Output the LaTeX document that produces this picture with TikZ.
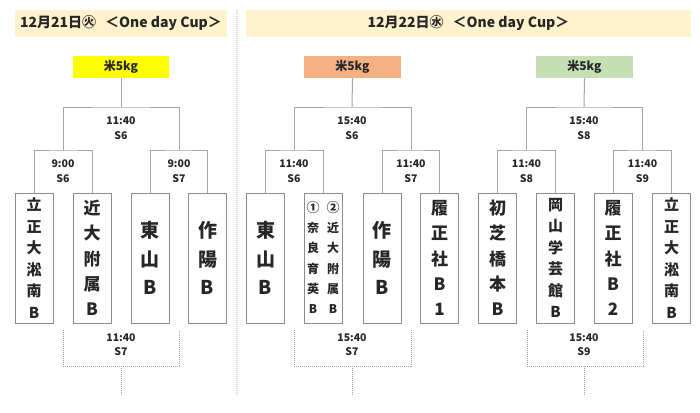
\documentclass[tikz,border=0pt]{standalone}
\usepackage{fontspec}
\setmainfont{Noto Sans CJK JP}
\definecolor{hdr}{HTML}{FFF2CC}
\definecolor{pyel}{HTML}{FFFF00}
\definecolor{psal}{HTML}{F4B183}
\definecolor{pgrn}{HTML}{C5E0B4}
\definecolor{lnc}{HTML}{A6A6A6}
\definecolor{bxc}{HTML}{8C8C8C}
\definecolor{txt}{HTML}{262626}
\tikzset{
  ln/.style={draw=lnc, line width=1pt},
  dl/.style={draw=lnc, line width=0.9pt, dash pattern=on 1.2pt off 0.8pt},
  sep/.style={draw=gray!30, line width=1.5pt, dash pattern=on 1pt off 1pt},
  hdrbox/.style={fill=hdr, draw=none, minimum height=27pt, inner sep=0, text=txt, font=\bfseries\fontsize{14}{16}\selectfont},
  prize/.style={draw=none, minimum width=96pt, minimum height=22pt, inner sep=0, text=txt, font=\bfseries\fontsize{12}{14}\selectfont},
  team/.style={draw=bxc, line width=0.8pt, minimum width=38pt, minimum height=130pt, inner sep=0, align=center, text=txt},
  fa/.style={font=\bfseries\fontsize{15}{21.5}\selectfont},
  fb/.style={font=\bfseries\fontsize{17}{25.3}\selectfont},
  fc/.style={font=\bfseries\fontsize{19}{28.5}\selectfont},
  fd/.style={font=\bfseries\fontsize{12}{20.2}\selectfont, align=center, inner sep=0, text=txt},
  tm/.style={align=center, inner sep=0, text=txt, font=\bfseries\fontsize{10.5}{14.5}\selectfont},
}
\begin{document}
\begin{tikzpicture}[x=1pt,y=-1pt]
\useasboundingbox (0,0) rectangle (700,412);
\fill[white] (0,0) rectangle (700,412);

% headers
\node[hdrbox, minimum width=212pt] (h1) at (121,23.5) {12月21日㊋\hspace{9pt}＜One day Cup＞};
\node[hdrbox, minimum width=445pt] (h2) at (468.5,23.5) {12月22日㊌\hspace{9pt}＜One day Cup＞};
\coordinate (s1) at (237,10);
\coordinate (s2) at (237,395);
\draw[sep] (s1) -- (s2);

% ---------------- Day 1 ----------------
\node[prize, fill=pyel] (p1) at (121,67) {米5kg};
\node[team, fa] (a1) at (34,258) {立\\正\\大\\淞\\南\\B};
\node[team, fb] (a2) at (92,258) {近\\大\\附\\属\\B};
\node[team, fc] (a3) at (150,258) {東\\山\\B};
\node[team, fc] (a4) at (207.5,258) {作\\陽\\B};
\coordinate (d1t) at (121,107);
\coordinate (d1l) at (63,150);
\coordinate (d1r) at (179,150);
\draw[ln] (p1.south) -- (d1t);
\draw[ln] (d1l) |- (d1t) -| (d1r);
\draw[ln] (a1.north) |- (d1l) -| (a2.north);
\draw[ln] (a3.north) |- (d1r) -| (a4.north);
\node[tm] (t1a) at (121,128) {11:40\\S6};
\node[tm] (t1b) at (63,171) {9:00\\S6};
\node[tm] (t1c) at (179,171) {9:00\\S7};
\coordinate (e1l) at (63,330);
\coordinate (e1r) at (179,330);
\coordinate (e1m) at (121,366);
\coordinate (e1e) at (121,395);
\draw[dl] (e1l) |- (e1m) -| (e1r);
\draw[dl] (e1m) -- (e1e);
\node[tm] (t1d) at (121,344.5) {11:40\\S7};

% ---------------- Day 2 left ----------------
\node[prize, fill=psal, minimum width=97pt] (p2) at (352.5,67) {米5kg};
\node[team, fc] (b1) at (265.5,258) {東\\山\\B};
\node[team] (b2) at (323,258) {};
\node[fd] (b2a) at (313,257.5) {{\fontsize{13}{20.2}\selectfont ①}\\奈\\良\\育\\英\\B};
\node[fd] (b2b) at (333,257.5) {{\fontsize{13}{20.2}\selectfont ②}\\近\\大\\附\\属\\B};
\node[team, fc] (b3) at (382,258) {作\\陽\\B};
\node[team, fb] (b4) at (439.5,258) {履\\正\\社\\B\\1};
\coordinate (d2t) at (352,107);
\coordinate (d2l) at (294,150);
\coordinate (d2r) at (411,150);
\draw[ln] (p2.south) -- (d2t);
\draw[ln] (d2l) |- (d2t) -| (d2r);
\draw[ln] (b1.north) |- (d2l) -| (b2.north);
\draw[ln] (b3.north) |- (d2r) -| (b4.north);
\node[tm] (t2a) at (352,128) {15:40\\S6};
\node[tm] (t2b) at (294,171) {11:40\\S6};
\node[tm] (t2c) at (411,171) {11:40\\S7};
\coordinate (e2l) at (294,330);
\coordinate (e2r) at (411,330);
\coordinate (e2m) at (352,366);
\coordinate (e2e) at (352,395);
\draw[dl] (e2l) |- (e2m) -| (e2r);
\draw[dl] (e2m) -- (e2e);
\node[tm] (t2d) at (352,344.5) {15:40\\S7};

% ---------------- Day 2 right ----------------
\node[prize, fill=pgrn, minimum width=97pt] (p3) at (584.5,67) {米5kg};
\node[team, fb] (c1) at (497.5,258) {初\\芝\\橋\\本\\B};
\node[team, fa] (c2) at (555.5,258) {岡\\山\\学\\芸\\館\\B};
\node[team, fb] (c3) at (613,258) {履\\正\\社\\B\\2};
\node[team, fa] (c4) at (671.5,258) {立\\正\\大\\淞\\南\\B};
\coordinate (d3t) at (584,107);
\coordinate (d3l) at (526.5,150);
\coordinate (d3r) at (642.5,150);
\draw[ln] (p3.south) -- (d3t);
\draw[ln] (d3l) |- (d3t) -| (d3r);
\draw[ln] (c1.north) |- (d3l) -| (c2.north);
\draw[ln] (c3.north) |- (d3r) -| (c4.north);
\node[tm] (t3a) at (584,128) {15:40\\S8};
\node[tm] (t3b) at (526.5,171) {11:40\\S8};
\node[tm] (t3c) at (642.5,171) {11:40\\S9};
\coordinate (e3l) at (527,330);
\coordinate (e3r) at (643,330);
\coordinate (e3m) at (584,366);
\coordinate (e3e) at (584,395);
\draw[dl] (e3l) |- (e3m) -| (e3r);
\draw[dl] (e3m) -- (e3e);
\node[tm] (t3d) at (584,344.5) {15:40\\S9};
\end{tikzpicture}
\end{document}
